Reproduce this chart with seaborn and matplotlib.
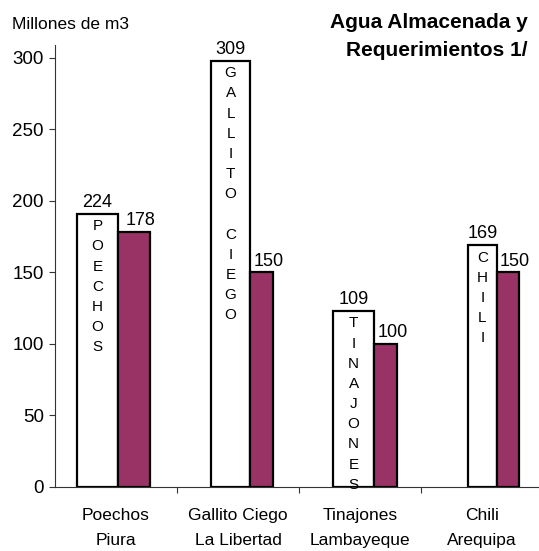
import pandas as pd
import matplotlib
matplotlib.use('Agg')
import matplotlib.pyplot as plt
import seaborn as sns

sns.set_style('white')
plt.rcParams['font.family'] = ['Liberation Sans', 'DejaVu Sans']
plt.rcParams['text.color'] = 'black'
plt.rcParams['xtick.color'] = 'black'
plt.rcParams['ytick.color'] = 'black'

embalses = ['Poechos\nPiura', 'Gallito Ciego\nLa Libertad', 'Tinajones\nLambayeque', 'Chili\nArequipa']
nombres_barra = ['POECHOS', 'GALLITO CIEGO', 'TINAJONES', 'CHILI']
almacenada = [191, 298, 123, 169]
etiquetas_almacenada = ['224', '309', '109', '169']
requerimiento = [178, 150, 100, 150]
etiquetas_requerimiento = ['178', '150', '100', '150']

# bar placement relative to the category centre (left edge, right edge)
pos_blanca = [(-0.32, 0.016), (-0.22, 0.098), (-0.22, 0.115), (-0.115, 0.123)]
pos_granate = [(0.016, 0.28), (0.098, 0.287), (0.115, 0.303), (0.123, 0.303)]

df = pd.DataFrame({
    'embalse': embalses * 2,
    'serie': ['Almacenada'] * 4 + ['Requerimiento'] * 4,
    'valor': almacenada + requerimiento,
})

fig = plt.figure(figsize=(5.39, 5.51), dpi=100)
ax = fig.add_axes([55 / 539, 64.3 / 551, 488 / 539, 441.7 / 551])

sns.barplot(data=df, x='embalse', y='valor', hue='serie',
            hue_order=['Almacenada', 'Requerimiento'],
            palette=['white', '#993366'], saturation=1,
            edgecolor='black', linewidth=1.6, legend=False, ax=ax)

for cont, pos in zip(ax.containers, [pos_blanca, pos_granate]):
    for i, (bar, (x0, x1)) in enumerate(zip(cont, pos)):
        bar.set_x(i + x0)
        bar.set_width(x1 - x0)

for i, bar in enumerate(ax.containers[0]):
    xc = bar.get_x() + bar.get_width() / 2
    h = bar.get_height()
    ax.annotate(etiquetas_almacenada[i], (xc, h), xytext=(0, 2), textcoords='offset points',
                ha='center', va='bottom', fontsize=13)
    ax.annotate('\n'.join(nombres_barra[i]), (xc, h), xytext=(0, -4), textcoords='offset points',
                ha='center', va='top', fontsize=11, linespacing=1.56)

for i, bar in enumerate(ax.containers[1]):
    xc = bar.get_x() + bar.get_width() / 2
    h = bar.get_height()
    ax.annotate(etiquetas_requerimiento[i], (xc, h), xytext=(5, 2), textcoords='offset points',
                ha='center', va='bottom', fontsize=13)

ax.set_xlim(-0.5, 3.5)
ax.set_ylim(0, 309)
ax.set_yticks(range(0, 301, 50))
ax.set_xticks(range(4))
ax.set_xticklabels(embalses, fontsize=12.5, linespacing=1.9)
ax.set_xticks([0.5, 1.5, 2.5, 3.5], minor=True)
ax.tick_params(axis='x', which='major', length=0, pad=15)
ax.tick_params(axis='x', which='minor', length=4.5, width=0.8, color='#333333', direction='out')
ax.tick_params(axis='y', length=4, width=0.8, color='#333333', direction='out', pad=4, labelsize=13.5)
ax.tick_params(axis='x', which='minor', bottom=True)
ax.tick_params(axis='y', left=True)
ax.set_xlabel('')
ax.set_ylabel('')

sns.despine(ax=ax, top=True, right=True)
for s in ['left', 'bottom']:
    ax.spines[s].set_color('#333333')
    ax.spines[s].set_linewidth(0.8)

fig.text(12 / 539, 1 - 17 / 551, 'Millones de m3', fontsize=12.5, ha='left', va='top')
fig.text(528 / 539, 1 - 13 / 551, 'Agua Almacenada y\nRequerimientos 1/', fontsize=15,
         fontweight='bold', ha='right', va='top', multialignment='right', linespacing=1.6)

fig.savefig('out.png', dpi=100)
